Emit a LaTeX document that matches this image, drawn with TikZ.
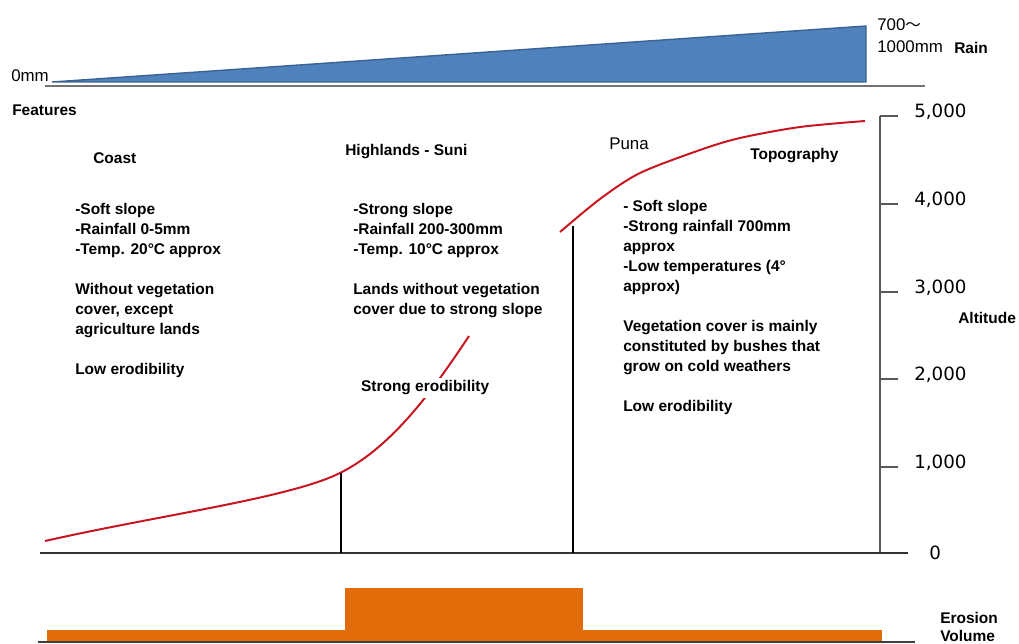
\documentclass[tikz,border=0pt]{standalone}
\usepackage{fontspec}
\setmainfont{Liberation Sans}
\newfontfamily\axisfont{DejaVu Sans}
\newfontfamily\cjk{Noto Sans CJK JP}
\usetikzlibrary{positioning}
\definecolor{rainblue}{HTML}{4F81BD}
\definecolor{rainedge}{HTML}{3A6394}
\definecolor{erosion}{HTML}{E36C0A}
\definecolor{relief}{HTML}{C8141E}

\begin{document}
\begin{tikzpicture}[x=0.025cm,y=-0.025cm,
    label text/.style={font=\fontsize{11}{14.2}\selectfont\bfseries,inner sep=0pt},
    feature block/.style={label text,align=left,anchor=north west},
    plain text/.style={font=\fontsize{12}{14}\selectfont,inner sep=0pt},
    tick label/.style={font=\axisfont\fontsize{13}{15}\selectfont,anchor=west,inner sep=0pt},
    relief line/.style={relief,line width=1.4pt},
    zone line/.style={black,line width=0.9pt}]

  \useasboundingbox (0,0) rectangle (1019,644);

  % rain wedge
  \coordinate (r0) at (52,82);
  \coordinate (r1) at (866,26);
  \coordinate (r2) at (866,82);
  \fill[rainblue,draw=rainedge,line width=1pt] (r0) -- (r1) -- (r2) -- cycle;
  \coordinate (rl) at (45,86);
  \coordinate (rr) at (925,86);
  \draw[black!55,line width=1.2pt] (rl) -- (rr);
  \node[plain text,anchor=west] (zero) at (11,76) {0mm};
  \node[plain text,anchor=west] (max1) at (877,25) {700{\cjk\fontsize{11}{14}\selectfont 〜}};
  \node[plain text,anchor=west] (max2) at (877,47) {1000mm};
  \node[label text,anchor=west] (rain) at (954,48) {Rain};
  \node[label text,anchor=west] (features) at (12,110) {Features};

  % altitude axis
  \coordinate (atop) at (880,116);
  \coordinate (abot) at (880,553);
  \draw[black!65,line width=1pt] (atop) -- (abot);
  \foreach \y/\v in {116/{5,000},204/{4,000},292/{3,000},379/{2,000},467/{1,000}} {
    \draw[black!65,line width=1pt] (880,\y) -- (898,\y);
    \node[tick label] at (914,\y-4) {\v};
  }
  \node[tick label] (zeroalt) at (929,553) {0};
  \node[label text,anchor=west] (altitude) at (958,318) {Altitude};

  % base line
  \coordinate (b0) at (40,553);
  \coordinate (b1) at (908,553);
  \draw[black!80,line width=1pt] (b0) -- (b1);

  % relief
  \draw[relief line] (45,541) .. controls (160,515) and (290,498) .. (340,473)
      .. controls (390,448) and (430,395) .. (469,336);
  \draw[relief line] plot[smooth] coordinates {(560,232) (600,199) (640,173) (700,150)
      (740,138) (800,127) (865,121)};
  \coordinate (suni) at (341,473);
  \coordinate (puna) at (573,226);
  \draw[zone line] (suni) -- (suni |- b0);
  \draw[zone line] (puna) -- (puna |- b0);

  % zones
  \node[label text,anchor=west] (coast) at (93,158) {Coast};
  \node[feature block] (coastinfo) at (75,203) {-Soft slope\\-Rainfall 0-5mm\\-Temp. 20\textdegree C approx\\[14.2pt]
      Without vegetation\\cover, except\\agriculture lands\\[14.2pt]Low erodibility};

  \node[label text,anchor=west] (highlands) at (345,152) {Highlands - Suni};
  \node[feature block] (highinfo) at (353,203) {-Strong slope\\-Rainfall 200-300mm\\-Temp. 10\textdegree C approx\\[14.2pt]
      Lands without vegetation\\cover due to strong slope};
  \node[label text,anchor=west,fill=white,inner sep=2pt] (strong) at (358,388) {Strong erodibility};

  \node[plain text,anchor=west] (punalabel) at (609,144) {Puna};
  \node[label text,anchor=west] (topo) at (750,156) {Topography};
  \node[feature block] (punainfo) at (623,200) {- Soft slope\\-Strong rainfall 700mm\\approx\\-Low temperatures (4\textdegree\\approx)\\[14.2pt]
      Vegetation cover is mainly\\constituted by bushes that\\grow on cold weathers\\[14.2pt]Low erodibility};

  % erosion volume
  \fill[erosion] (47,630) rectangle (882,642);
  \fill[erosion] (345,588) rectangle (583,642);
  \coordinate (e0) at (38,642);
  \coordinate (e1) at (915,642);
  \draw[black!75,line width=1pt] (e0) -- (e1);
  \node[label text,anchor=west] (eros1) at (940,618) {Erosion};
  \node[label text,anchor=west] (eros2) at (940,636) {Volume};

\end{tikzpicture}
\end{document}
